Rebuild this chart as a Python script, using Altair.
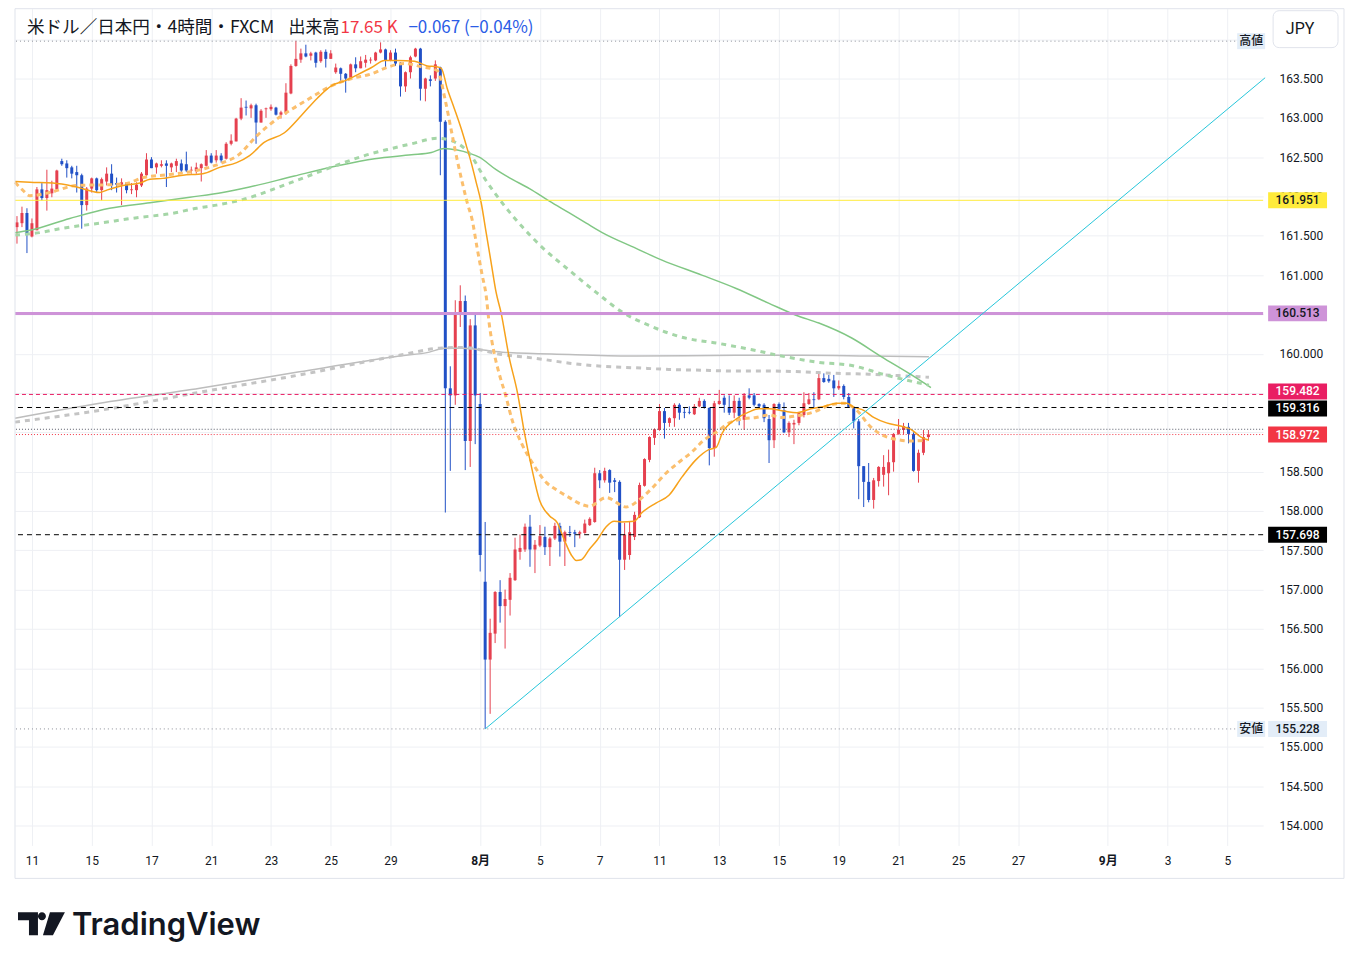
import altair as alt
import pandas as pd

# ---------------- candle data (4h candles, index = candle number) ----------------
opens = [
161.61, 161.66, 161.79, 161.49, 161.57, 162.09, 161.98, 162.04, 162.09, 162.45,
162.42, 162.37, 162.31, 162.27, 161.89, 162.10, 162.23, 162.08, 162.19, 162.29,
162.17, 162.15, 162.17, 162.08, 162.08, 162.14, 162.27, 162.47, 162.37, 162.39,
162.42, 162.37, 162.39, 162.42, 162.41, 162.33, 162.32, 162.36, 162.39, 162.52,
162.46, 162.52, 162.48, 162.67, 162.70, 162.99, 163.14, 163.12, 163.16, 162.94,
163.11, 163.11, 163.13, 163.04, 163.06, 163.31, 163.66, 163.74, 163.82, 163.79,
163.83, 163.72, 163.84, 163.75, 163.58, 163.63, 163.56, 163.50, 163.68, 163.63,
163.70, 163.73, 163.73, 163.83, 163.87, 163.73, 163.83, 163.70, 163.40, 163.58,
163.78, 163.88, 163.37, 163.49, 163.50, 163.64, 162.95, 159.56, 159.47, 160.52,
160.67, 158.89, 160.36, 159.36, 157.10, 156.11, 156.44, 156.97, 156.79, 156.87,
157.12, 157.48, 157.51, 157.80, 157.51, 157.56, 157.67, 157.54, 157.65, 157.81,
157.61, 157.73, 157.73, 157.71, 157.72, 157.82, 157.86, 158.48, 158.39, 158.52,
158.39, 158.37, 157.38, 157.44, 157.67, 157.92, 158.32, 158.65, 158.93, 159.03,
159.27, 159.12, 159.18, 159.35, 159.26, 159.26, 159.23, 159.33, 159.40, 159.31,
158.80, 159.36, 159.44, 159.32, 159.25, 159.40, 159.16, 159.47, 159.47, 159.36,
159.35, 159.17, 158.90, 159.36, 159.28, 159.00, 159.10, 159.12, 159.22, 159.36,
159.42, 159.42, 159.69, 159.68, 159.66, 159.56, 159.59, 159.45, 159.32, 159.14,
158.57, 158.37, 158.14, 158.38, 158.46, 158.48, 158.62, 158.98, 159.03, 159.07,
158.98, 158.51, 158.74, 158.94]

highs = [
161.75, 161.87, 161.85, 161.72, 162.12, 162.17, 162.34, 162.20, 162.34, 162.48,
162.46, 162.39, 162.39, 162.29, 162.12, 162.24, 162.24, 162.24, 162.37, 162.41,
162.24, 162.23, 162.18, 162.17, 162.18, 162.31, 162.55, 162.50, 162.43, 162.46,
162.46, 162.43, 162.48, 162.47, 162.57, 162.38, 162.43, 162.42, 162.59, 162.55,
162.59, 162.55, 162.69, 162.79, 163.00, 163.25, 163.22, 163.18, 163.18, 163.11,
163.13, 163.17, 163.14, 163.09, 163.44, 163.68, 163.98, 163.88, 163.93, 163.84,
163.84, 163.86, 163.87, 163.86, 163.69, 163.64, 163.57, 163.69, 163.77, 163.78,
163.80, 163.77, 163.84, 163.96, 163.88, 163.86, 163.88, 163.71, 163.59, 163.79,
163.89, 163.89, 163.51, 163.54, 163.73, 163.65, 162.97, 159.84, 160.68, 160.87,
160.74, 160.44, 160.52, 159.50, 157.86, 156.63, 156.98, 157.12, 157.00, 157.21,
157.66, 157.70, 157.84, 157.95, 157.63, 157.82, 157.80, 157.67, 157.85, 157.85,
157.75, 157.81, 157.76, 157.75, 157.89, 157.92, 158.55, 158.52, 158.55, 158.53,
158.42, 158.39, 157.85, 157.86, 157.99, 158.36, 158.67, 158.95, 159.05, 159.36,
159.31, 159.19, 159.37, 159.37, 159.32, 159.33, 159.36, 159.44, 159.42, 159.32,
159.40, 159.54, 159.47, 159.47, 159.47, 159.44, 159.50, 159.56, 159.50, 159.37,
159.37, 159.22, 159.37, 159.38, 159.38, 159.14, 159.16, 159.26, 159.51, 159.50,
159.51, 159.75, 159.75, 159.73, 159.73, 159.66, 159.61, 159.50, 159.33, 159.17,
158.57, 158.61, 158.42, 158.57, 158.71, 158.78, 158.99, 159.17, 159.12, 159.12,
159.00, 158.78, 159.03, 159.03]

lows = [
161.40, 161.61, 161.28, 161.48, 161.57, 161.95, 161.82, 161.99, 162.08, 162.39,
162.24, 162.23, 162.05, 161.59, 161.82, 162.05, 162.05, 161.95, 162.14, 162.08,
162.05, 161.89, 162.04, 162.03, 161.99, 162.12, 162.24, 162.36, 162.29, 162.37,
162.12, 162.31, 162.31, 162.31, 162.31, 162.29, 162.29, 162.19, 162.38, 162.42,
162.43, 162.43, 162.47, 162.65, 162.70, 162.97, 163.03, 163.00, 162.67, 162.94,
163.00, 163.09, 163.03, 162.99, 163.04, 163.30, 163.65, 163.70, 163.77, 163.73,
163.64, 163.70, 163.64, 163.75, 163.56, 163.45, 163.32, 163.49, 163.58, 163.63,
163.64, 163.69, 163.72, 163.82, 163.64, 163.72, 163.66, 163.27, 163.33, 163.50,
163.77, 163.22, 163.21, 163.40, 163.47, 162.27, 157.98, 158.51, 159.35, 160.34,
158.52, 158.56, 158.85, 157.23, 155.228, 155.42, 156.32, 156.58, 156.25, 156.67,
157.11, 157.38, 157.48, 157.29, 157.21, 157.54, 157.44, 157.30, 157.63, 157.42,
157.30, 157.67, 157.54, 157.65, 157.71, 157.81, 157.85, 158.29, 158.36, 158.23,
158.24, 156.65, 157.25, 157.38, 157.63, 157.91, 158.31, 158.62, 158.84, 159.02,
158.92, 159.07, 159.07, 159.16, 159.18, 159.23, 159.22, 159.32, 159.30, 158.58,
158.69, 159.35, 159.25, 159.22, 159.18, 159.09, 159.03, 159.42, 159.33, 159.32,
159.13, 158.61, 158.80, 159.28, 158.99, 158.94, 158.85, 159.09, 159.19, 159.35,
159.31, 159.41, 159.63, 159.63, 159.45, 159.54, 159.42, 159.31, 159.05, 158.15,
158.05, 158.11, 158.03, 158.31, 158.31, 158.20, 158.50, 158.97, 158.97, 158.86,
158.50, 158.36, 158.71, 158.90]

closes = [
161.67, 161.79, 161.51, 161.66, 162.09, 161.98, 162.08, 162.10, 162.33, 162.41,
162.36, 162.29, 162.27, 161.89, 162.10, 162.23, 162.08, 162.22, 162.29, 162.14,
162.15, 162.18, 162.08, 162.09, 162.15, 162.29, 162.47, 162.36, 162.42, 162.41,
162.39, 162.42, 162.45, 162.33, 162.33, 162.34, 162.37, 162.41, 162.52, 162.43,
162.52, 162.46, 162.67, 162.71, 162.99, 163.13, 163.13, 163.16, 162.94, 163.09,
163.12, 163.14, 163.04, 163.07, 163.32, 163.66, 163.75, 163.82, 163.78, 163.82,
163.70, 163.84, 163.75, 163.82, 163.64, 163.56, 163.50, 163.68, 163.63, 163.72,
163.74, 163.74, 163.83, 163.87, 163.73, 163.83, 163.69, 163.40, 163.58, 163.77,
163.88, 163.37, 163.50, 163.47, 163.68, 162.95, 159.56, 159.47, 160.53, 160.67,
158.89, 160.36, 159.47, 157.44, 156.11, 156.45, 156.97, 156.79, 156.88, 157.15,
157.51, 157.53, 157.80, 157.51, 157.57, 157.68, 157.54, 157.65, 157.81, 157.61,
157.73, 157.72, 157.71, 157.73, 157.84, 157.90, 158.48, 158.39, 158.51, 158.36,
158.37, 157.38, 157.70, 157.73, 157.95, 158.33, 158.66, 158.94, 159.04, 159.27,
159.12, 159.18, 159.35, 159.25, 159.25, 159.25, 159.33, 159.40, 159.31, 158.80,
159.37, 159.40, 159.35, 159.25, 159.40, 159.21, 159.47, 159.44, 159.35, 159.33,
159.18, 158.90, 159.36, 159.30, 159.00, 159.12, 159.12, 159.25, 159.37, 159.42,
159.41, 159.69, 159.64, 159.65, 159.56, 159.59, 159.45, 159.32, 159.14, 158.57,
158.37, 158.14, 158.39, 158.56, 158.56, 158.62, 158.98, 159.03, 159.08, 158.98,
158.51, 158.74, 158.94, 158.972]

# ---------------- moving-average lines ----------------
fast_i = [-0.4, 2.6, 7.2, 12.0, 16.6, 18.0, 21.3, 24.7, 26.7, 29.3, 33.3, 37.3, 40.7, 44.1, 46.7,
          49.7, 53.7, 57.1, 60.3, 63.2, 65.8, 68.4, 71.2, 73.8, 76.4, 79.8, 82.4, 84.2, 85.2, 86.4,
          87.8, 89.2, 90.2, 91.2, 92.2, 93.2, 94.2, 95.2, 96.2, 97.2, 98.8, 100.5, 101.9, 103.3,
          104.9, 106.9, 108.5, 109.9, 111.3, 112.3, 113.3, 114.9, 116.5, 118.3, 119.9, 121.3, 123.9,
          125.5, 128.3, 130.9, 133.5, 136.3, 138.9, 140.4, 141.6, 144.4, 147.0, 149.0, 151.0, 154.0,
          156.6, 159.4, 162.0, 164.6, 166.6, 168.0, 170.0, 172.0, 174.6, 177.4, 179.4, 181.5, 183.1]
fast_p = [162.19, 162.18, 162.17, 162.12, 162.05, 162.08, 162.14, 162.17, 162.22, 162.23, 162.27,
          162.29, 162.37, 162.43, 162.52, 162.69, 162.81, 163.03, 163.25, 163.41, 163.47, 163.55,
          163.64, 163.73, 163.73, 163.72, 163.66, 163.65, 163.63, 163.37, 163.12, 162.86, 162.65,
          162.43, 162.18, 161.92, 161.54, 161.16, 160.78, 160.52, 159.96, 159.50, 158.99, 158.56,
          158.14, 157.94, 157.85, 157.63, 157.44, 157.37, 157.38, 157.51, 157.63, 157.80, 157.87,
          157.86, 157.87, 157.98, 158.10, 158.20, 158.43, 158.65, 158.78, 158.81, 158.99, 159.17,
          159.26, 159.30, 159.30, 159.27, 159.25, 159.30, 159.33, 159.37, 159.37, 159.32, 159.28,
          159.19, 159.12, 159.08, 159.04, 158.94, 158.90]

slow_i = [-0.4, 1.0, 2.6, 6.6, 12.0, 19.2, 22.3, 25.3, 30.7, 36.1, 41.3, 44.3, 48.3, 52.3, 55.7,
          59.1, 63.2, 67.2, 71.2, 73.8, 77.8, 81.2, 84.4, 86.0, 87.2, 88.4, 89.4, 90.4, 91.4, 92.4,
          93.4, 94.2, 94.8, 95.8, 96.8, 98.2, 99.4, 101.3, 103.5, 106.3, 108.3, 110.9, 113.5, 114.9,
          118.3, 122.3, 124.9, 127.5, 130.3, 132.9, 135.5, 137.9, 140.4, 143.0, 145.6, 148.4, 151.0,
          153.4, 156.6, 160.0, 163.4, 166.0, 168.6, 171.4, 173.6, 176.6, 179.4, 182.7]
slow_p = [162.18, 162.09, 162.01, 162.05, 162.14, 162.15, 162.17, 162.24, 162.28, 162.33, 162.43,
          162.52, 162.78, 162.99, 163.13, 163.26, 163.41, 163.50, 163.56, 163.63, 163.69, 163.65,
          163.60, 163.22, 162.84, 162.46, 162.18, 161.92, 161.70, 161.34, 161.00, 160.74, 160.39,
          160.01, 159.75, 159.45, 159.16, 158.86, 158.61, 158.36, 158.27, 158.17, 158.08, 158.06,
          158.17, 158.05, 158.14, 158.29, 158.48, 158.62, 158.75, 158.90, 159.00, 159.12, 159.17,
          159.19, 159.22, 159.19, 159.21, 159.26, 159.35, 159.37, 159.28, 159.07, 158.97, 158.91,
          158.89, 158.90]

green_i = [-0.4, 2.6, 10.6, 18.6, 26.7, 34.7, 41.3, 46.7, 55.7, 64.4, 71.8, 79.2, 83.2, 85.8, 88.4,
           90.8, 92.8, 96.2, 98.8, 102.9, 106.9, 110.9, 114.3, 117.5, 124.3, 129.5, 137.5, 144.4,
           151.0, 156.4, 161.0, 167.6, 173.6, 179.6, 183.5]
green_p = [161.54, 161.57, 161.72, 161.85, 161.92, 161.99, 162.05, 162.12, 162.26, 162.39, 162.48,
           162.53, 162.56, 162.61, 162.59, 162.55, 162.50, 162.34, 162.24, 162.10, 161.94, 161.79,
           161.66, 161.54, 161.34, 161.19, 161.00, 160.83, 160.64, 160.49, 160.39, 160.20, 159.96,
           159.73, 159.57]

gdash_i = [-0.4, 4.6, 8.6, 16.6, 24.1, 30.7, 36.1, 40.1, 45.3, 54.7, 65.2, 69.8, 75.2, 79.2, 84.4,
           87.2, 90.8, 94.2, 97.4, 101.5, 105.5, 110.9, 116.3, 121.5, 126.9, 133.5, 141.0, 147.6,
           154.4, 161.0, 167.6, 174.4, 183.1]
gdash_p = [161.51, 161.54, 161.59, 161.66, 161.73, 161.78, 161.85, 161.89, 161.96, 162.17, 162.42,
           162.52, 162.61, 162.67, 162.74, 162.71, 162.55, 162.20, 161.92, 161.61, 161.35, 161.06,
           160.78, 160.53, 160.36, 160.21, 160.13, 160.05, 159.96, 159.89, 159.85, 159.73, 159.60]

gray_i = [-0.4, 16.6, 36.7, 56.7, 76.8, 82.8, 85.8, 89.4, 97.4, 110.9, 124.3, 144.4, 157.6, 171.0, 183.1]
gray_p = [159.18, 159.37, 159.56, 159.77, 159.97, 160.02, 160.07, 160.07, 160.02, 159.99, 159.97,
          159.98, 159.98, 159.97, 159.96]

graydash_i = [-0.4, 16.6, 36.7, 56.7, 76.8, 84.8, 89.4, 97.4, 104.3, 110.9, 117.5, 124.3, 130.9,
              137.5, 144.4, 151.0, 157.6, 164.4, 171.0, 177.6, 183.1]
graydash_p = [159.13, 159.28, 159.51, 159.73, 159.98, 160.07, 160.08, 159.99, 159.94, 159.88, 159.84,
              159.82, 159.80, 159.79, 159.78, 159.78, 159.77, 159.75, 159.74, 159.72, 159.70]

# trend line through the two swing lows, extended to the right edge
trend_i = [94, 250.6]
trend_p = [155.228, 163.51]

# horizontal levels and their price-scale tags
level_high = 163.975
level_low = 155.228
level_prev_close = 159.039
tag_values = [161.951, 160.513, 159.482, 159.316, 158.972, 157.698, 155.228]
tag_texts = ["161.951", "160.513", "159.482", "159.316", "158.972", "157.698", "155.228"]

# axes
tick_idx = [3, 15, 27, 39, 51, 63, 75, 93, 105, 117, 129, 141, 153, 165, 177, 189, 201, 219, 231, 243]
tick_lbl = ["11", "15", "17", "21", "23", "25", "29", "8月", "5", "7", "11", "13", "15", "19", "21",
            "25", "27", "9月", "3", "5"]
price_ticks = [154.0, 154.5, 155.0, 155.5, 156.0, 156.5, 157.0, 157.5, 158.0, 158.5, 159.0, 159.5,
               160.0, 160.5, 161.0, 161.5, 162.0, 162.5, 163.0, 163.5, 164.0]
covered_ticks = [159.0, 159.5, 160.5, 164.0]

# ---------------- styling ----------------
RED = "#E5404F"
BLUE = "#2150C6"
INK = "#131722"
GRID = "#EEF0F4"
FONT = "Roboto, 'Noto Sans CJK JP', sans-serif"
JFONT = "'Noto Sans CJK JP', sans-serif"

xs = alt.Scale(domain=[-0.4, 250.2], nice=False, zero=False, padding=0)
ys = alt.Scale(domain=[153.746, 164.388], nice=False, zero=False, padding=0)

xexpr = "".join(f"datum.value == {v} ? '{t}' : " for v, t in zip(tick_idx, tick_lbl)) + "''"
bold_test = "datum.value == 93 || datum.value == 219"
yexpr = ("(" + " || ".join(f"abs(datum.value - {v}) < 0.001" for v in covered_ticks) +
         ") ? '' : datum.label")

x_axis = alt.Axis(values=tick_idx, labelExpr=xexpr, grid=True, gridColor=GRID, ticks=False,
                  domain=False, labelPadding=10, labelFontSize=12, labelColor=INK,
                  labelFont=FONT, labelFlush=False, labelOverlap=False, title=None,
                  labelFontWeight={"condition": {"test": bold_test, "value": "bold"}, "value": "normal"})
y_axis = alt.Axis(orient="right", values=price_ticks, format=".3f", labelExpr=yexpr, grid=True,
                  gridColor=GRID, ticks=False, domain=False, labelPadding=16, labelFontSize=12,
                  labelColor=INK, labelFont=FONT, labelFlush=False, labelOverlap=False, title=None)


def X(field):
    return alt.X(field, type="quantitative", scale=xs, axis=x_axis)


def Y(field):
    return alt.Y(field, type="quantitative", scale=ys, axis=y_axis)


n = len(opens)
candles = pd.DataFrame({"i": list(range(n)), "o": opens, "h": highs, "l": lows, "c": closes})
candles["dir"] = ["up" if c >= o else "down" for o, c in zip(opens, closes)]
ccol = alt.Color("dir:N", scale=alt.Scale(domain=["up", "down"], range=[RED, BLUE]), legend=None)

one = pd.DataFrame({"k": [0]})

frame = alt.Chart(one).mark_rect(filled=False, stroke="#E0E3EB", strokeWidth=1).encode(
    x=alt.value(0), x2=alt.value(1331), y=alt.value(0), y2=alt.value(871))

wicks = alt.Chart(candles).mark_rule(strokeWidth=1).encode(
    x=X("i"), y=Y("l"), y2="h:Q", color=ccol)
bodies = alt.Chart(candles).mark_bar(size=3).encode(
    x=X("i"), y=Y("o"), y2="c:Q", color=ccol)


def series(xi, yp, color, width, dash=None, opacity=1.0):
    d = pd.DataFrame({"i": xi, "p": yp})
    kw = dict(color=color, strokeWidth=width, interpolate="monotone", opacity=opacity)
    if dash:
        kw["strokeDash"] = dash
    return alt.Chart(d).mark_line(**kw).encode(x=X("i"), y=Y("p"))


gray_solid = series(gray_i, gray_p, "#BDBDBD", 1.5)
gray_dash = series(graydash_i, graydash_p, "#C4C4C4", 3, [5, 5])
green_solid = series(green_i, green_p, "#81C784", 1.5)
green_dash = series(gdash_i, gdash_p, "#A5D6A7", 3, [5, 5])
orange_solid = series(fast_i, fast_p, "#F7A21B", 1.5)
orange_dash = series(slow_i, slow_p, "#FBBF6E", 3, [5, 4])


def hline(value, color, width, dash=None):
    d = pd.DataFrame({"p": [value]})
    kw = dict(color=color, strokeWidth=width)
    if dash:
        kw["strokeDash"] = dash
    return alt.Chart(d).mark_rule(**kw).encode(y=Y("p"))


lines = [
    hline(level_high, "#8C8F99", 1, [1, 3]),
    hline(tag_values[0], "#FFEB3B", 1),
    hline(tag_values[1], "#CE93D8", 3),
    hline(tag_values[2], "#E91E63", 1, [4, 3]),
    hline(tag_values[3], "#000000", 1, [5, 4]),
    hline(level_prev_close, "#555866", 1, [1, 2]),
    hline(tag_values[4], "#F23645", 1, [1, 2]),
    hline(tag_values[5], "#000000", 1, [5, 4]),
    hline(level_low, "#8C8F99", 1, [1, 3]),
]

trend = alt.Chart(pd.DataFrame({"i": trend_i, "p": trend_p})).mark_line(
    color="#26C6DA", strokeWidth=1).encode(x=X("i"), y=Y("p"))


def tag(value, text, fill, fg, shift=0, xc=1284.5, w=59, h=16, font=FONT):
    d = pd.DataFrame({"p": [value], "t": [text]})
    r = h / w
    shape = f"M-1,{-r:.4f}H1V{r:.4f}H-1Z"
    box = alt.Chart(d).mark_point(shape=shape, size=w * w, filled=True, opacity=1, strokeWidth=0,
                                  color=fill, yOffset=shift).encode(x=alt.value(xc), y=Y("p"))
    txt = alt.Chart(d).mark_text(font=font, fontSize=12, fontWeight=500, color=fg, align="center",
                                 baseline="middle", yOffset=shift).encode(
        x=alt.value(xc), y=Y("p"), text="t:N")
    return [box, txt]


tags = []
tags += tag(tag_values[0], tag_texts[0], "#FFEB3B", INK)
tags += tag(tag_values[1], tag_texts[1], "#CE93D8", INK)
tags += tag(tag_values[2], tag_texts[2], "#E91E63", "white", shift=-3)
tags += tag(tag_values[3], tag_texts[3], "#000000", "white", shift=1)
tags += tag(tag_values[4], tag_texts[4], "#F23645", "white")
tags += tag(tag_values[5], tag_texts[5], "#000000", "white")
tags += tag(tag_values[6], tag_texts[6], "#E3EDF8", INK)
tags += tag(level_low, "安値", "#E3EDF8", INK, xc=1238, w=28, font=JFONT)
tags += tag(level_high, "高値", "#E3EDF8", INK, xc=1238, w=28, font=JFONT)


def label(text, x, y, color=INK, size=17, weight="normal", font=JFONT, align="left"):
    d = pd.DataFrame({"t": [text]})
    return alt.Chart(d).mark_text(font=font, fontSize=size, color=color, fontWeight=weight,
                                  align=align, baseline="middle").encode(
        x=alt.value(x), y=alt.value(y), text="t:N")


header = [
    label("米ドル／日本円・4時間・FXCM", 12, 19, size=17.6),
    label("出来高", 274, 19),
    label("17.65 K", 326, 19, color="#F23645"),
    label("−0.067 (−0.04%)", 394, 19, color="#2B5CE6"),
]

jpy_box = alt.Chart(one).mark_rect(fill="white", stroke="#E0E3EB", strokeWidth=1, cornerRadius=6).encode(
    x=alt.value(1260), x2=alt.value(1325), y=alt.value(2), y2=alt.value(39))
jpy_txt = label("JPY", 1287, 20, size=16, font=FONT, align="center")

logo_path = ("M-23,-12L-3,-12L-3,11L-12,11L-12,-4L-23,-4Z "
             "M-3,-8A4,4 0 1 0 5,-8A4,4 0 1 0 -3,-8Z "
             "M9,-12L24,-12L12,11L2,11Z")
logo_icon = alt.Chart(one).mark_point(shape=logo_path, size=4, filled=True, opacity=1, strokeWidth=0,
                                      color=INK).encode(x=alt.value(26), y=alt.value(917))
logo_txt = alt.Chart(pd.DataFrame({"t": ["TradingView"]})).mark_text(
    font="Inter, Roboto, sans-serif", fontSize=31, fontWeight=600, color=INK, align="left",
    baseline="alphabetic").encode(x=alt.value(57), y=alt.value(928), text="t:N")

layers = ([wicks, bodies, gray_solid, gray_dash, green_solid, green_dash, orange_dash,
           orange_solid] + lines + [trend] + tags + header +
          [jpy_box, jpy_txt, logo_icon, logo_txt, frame])

chart = alt.layer(*layers).properties(
    width=1250, height=838,
    padding={"left": 7, "top": 0, "right": 90, "bottom": 100},
    autosize=alt.AutoSizeParams(type="none"),
    background="white",
).configure_view(stroke=None)

chart.save("out.html", embed_options={"renderer": "svg", "actions": False})
